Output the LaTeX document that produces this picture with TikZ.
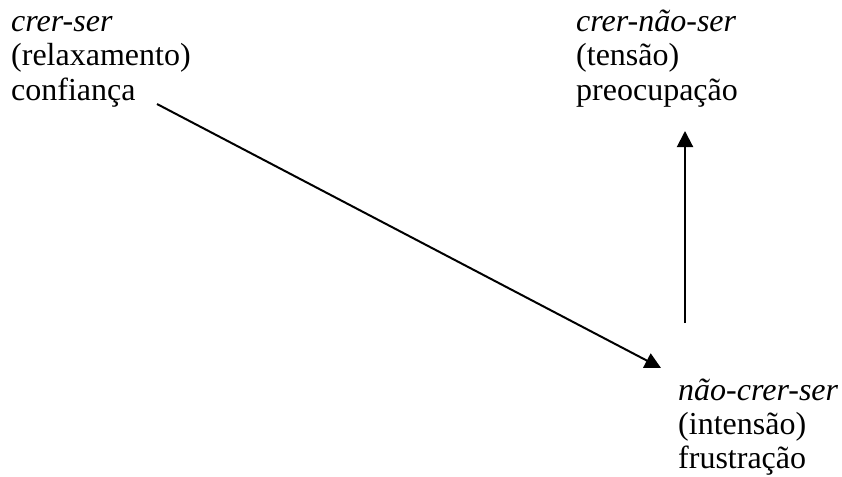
\documentclass[tikz,border=0pt]{standalone}
\usepackage{fontspec}
\setmainfont{Liberation Serif}
\usetikzlibrary{arrows.meta}
\begin{document}
\begin{tikzpicture}[x=1pt,y=-1pt,
  txt/.style={anchor=base west,inner sep=0pt,font=\fontsize{32}{38}\selectfont},
  link/.style={line width=2pt,-{Triangle[length=16pt,width=16pt]}}]
\useasboundingbox (0,0) rectangle (842,476);
% crer-ser
\node[txt] (a1) at (11,32) {\itshape crer-ser};
\node[txt] (a2) at (11,66) {(relaxamento)};
\node[txt] (a3) at (11,100) {confiança};
% crer-não-ser
\node[txt] (b1) at (576,32) {\itshape crer-não-ser};
\node[txt] (b2) at (576,66) {(tensão)};
\node[txt] (b3) at (576,100) {preocupação};
% não-crer-ser
\node[txt] (c1) at (678,400) {\itshape não-crer-ser};
\node[txt] (c2) at (678,434) {(intensão)};
\node[txt] (c3) at (678,468) {frustração};
% arrow ends
\coordinate (d0) at (157,104);
\coordinate (d1) at (661,368);
\coordinate (u0) at (685,323);
\coordinate (u1) at (685,131);
\draw[link] (d0) -- (d1);
\draw[link] (u0) -- (u1);
\end{tikzpicture}
\end{document}
